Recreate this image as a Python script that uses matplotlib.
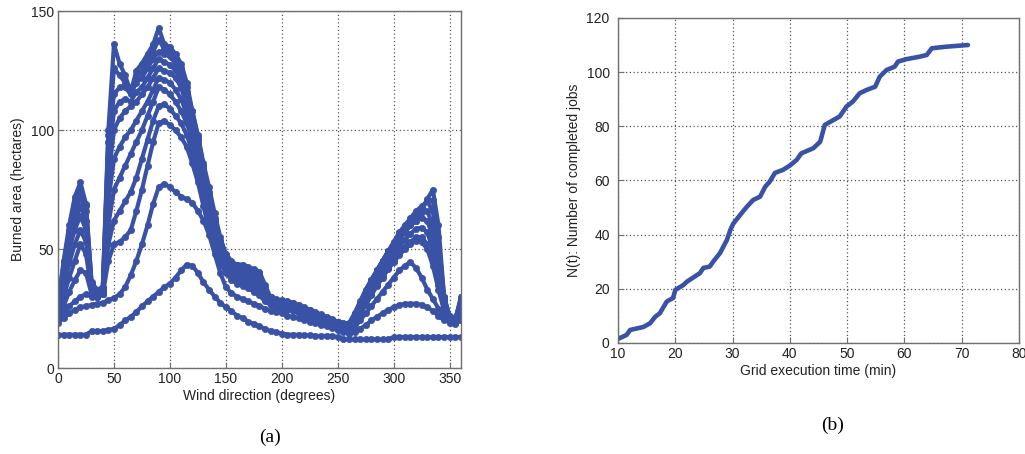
import numpy as np
import matplotlib
matplotlib.use("Agg")
import matplotlib.pyplot as plt

# ---------------- data: panel (a) ----------------
wind_deg = list(range(0, 361, 5))

area_s1 = [14, 14, 14, 14, 14, 14, 15.5, 15.5, 15.5, 16, 16.5, 18, 20, 21.5, 23.5, 26, 28, 30, 32, 34,
           35.5, 38, 41, 43.5, 43, 40, 36, 33, 30, 27.5, 25.5, 24, 22, 21, 19.5, 18.5, 17.5, 16.5, 15.5, 15,
           14.5, 14, 14, 14, 13.8, 13.7, 13.5, 13.5, 13.5, 13.4, 13, 12, 12, 12, 12, 12, 12, 12, 12, 12,
           13, 13, 13, 13, 13, 13, 13, 13, 13, 13, 13, 13, 13]
area_s2 = [19, 21, 23, 24.5, 25.5, 26, 26.5, 27, 27.5, 28.5, 29.5, 31, 34, 39, 45, 52, 60, 69, 76, 77.5,
           76, 74, 72, 71, 69.5, 66, 62, 56, 48, 40, 34, 31.5, 30, 29, 28, 27, 26, 25, 24, 23.5,
           23, 22, 21.5, 21, 20, 19.5, 19, 18, 17.5, 17, 16, 15, 14.5, 15, 16.5, 18, 20, 21.5, 23, 24.5,
           25.5, 26.5, 27, 27, 27, 26.5, 25.5, 24, 22, 20, 19.5, 19.5, 20]
area_s3 = [21, 23, 26, 28, 30, 31, 30, 30, 31, 45, 52, 53, 55, 58, 66, 75, 85, 95, 103, 104,
           102, 100, 97, 93, 86, 78, 68, 58, 50, 44, 40, 37, 35.5, 34.5, 33.5, 32, 30.5, 28, 26.5, 25.5,
           25, 24.5, 24, 23, 22, 21, 20, 19, 18.5, 17.5, 16.5, 15.5, 15, 17, 20, 23, 26, 29, 32, 35,
           38, 41, 43, 44.5, 42, 38, 33, 29, 25, 21, 19, 18.5, 20]
area_s3a = [21.5, 26, 32, 37, 41, 40, 31, 30, 31, 52, 62, 66, 70, 74, 80, 88, 96, 104, 110, 111,
            109, 106, 103, 98, 91, 83, 73, 62, 53, 46, 42, 39, 37, 36, 35, 34, 32, 29, 27.5, 26.5,
            26, 25.5, 25, 24, 23, 22, 21, 20, 19.2, 18.2, 17.2, 16.2, 15.5, 18.5, 22.5, 26.5, 30.5, 34.5, 38, 41.5,
            44.5, 47.5, 50, 52, 53.5, 53, 50, 43, 33, 24, 19.5, 18.8, 21]
area_s4 = [22, 30, 38, 45, 52, 48, 32, 30, 31, 60, 75, 80, 85, 90, 95, 100, 106, 112, 118, 117,
           115, 112, 108, 103, 96, 88, 78, 66, 56, 48, 44, 41, 39, 38, 37, 35.5, 33.5, 30, 28.5, 27.5,
           27, 26.5, 26, 25, 24, 23, 22, 21, 20, 19, 18, 17, 16, 19, 23, 27, 31, 35, 38.5, 42,
           45, 48, 51, 53, 55, 55, 52, 45, 35, 25, 20, 19, 22]
area_s4a = [23, 34, 44, 52, 58, 53, 33, 30.5, 31.5, 70, 88, 93, 97, 100, 104, 108, 112, 117, 122, 121,
            120, 117, 113, 107, 99, 91, 81, 69, 59, 50, 45, 42, 40, 39, 38, 37, 35, 30.5, 29, 28,
            27.5, 27, 26.5, 25.5, 24.5, 23.5, 22.5, 21.5, 20.5, 19.5, 18.5, 17.5, 16.5, 20, 24.5, 29, 33, 37, 40.5, 44,
            47.5, 51, 54, 56.5, 58.5, 59, 57, 50, 38, 26, 20.5, 19.5, 23]
area_s5 = [24, 38, 50, 58, 64, 58, 34, 31, 32, 80, 100, 105, 108, 110, 112, 115, 118, 122, 126, 125,
           124, 122, 118, 110, 102, 94, 84, 72, 62, 52, 46, 43, 41, 40, 39, 38, 37, 31, 29.5, 28.5,
           28, 27.5, 27, 26, 25, 24, 23, 22, 21, 20, 19, 18, 17, 21, 26, 31, 35, 39, 43, 46,
           50, 54, 57, 60, 62, 63, 62, 55, 40, 28, 21, 20, 25]
area_s5a = [25, 40, 53, 62, 68, 62, 34.5, 31.5, 32.5, 88, 108, 112, 113, 112, 116, 118, 122, 126, 130, 128.5,
            127.5, 125, 121, 113, 105, 96, 85, 74, 63, 53.5, 47, 44, 42, 41, 40, 39, 38, 31.5, 29.7, 28.7,
            28.2, 27.7, 27.2, 26.2, 25.2, 24.2, 23.2, 22.2, 21.2, 20.2, 19.2, 18.2, 17.2, 21.5, 26.5, 31.5, 36, 40, 44, 47.5,
            51.5, 55.5, 58.5, 61.5, 64, 65.5, 66, 60, 45, 29, 21.5, 20.5, 26]
area_s6 = [26, 42, 56, 66, 72, 66, 35, 32, 33, 95, 115, 118, 118, 115, 120, 122, 126, 130, 133, 132,
           131, 128, 124, 116, 108, 98, 86, 76, 65, 55, 48, 45, 43, 42, 41, 40, 39.5, 32, 30, 29,
           28.5, 28, 27.5, 26.5, 25.5, 24.5, 23.5, 22.5, 21.5, 20.5, 19.5, 18.5, 17.5, 22, 27, 32, 37, 41, 45, 49,
           53, 57, 60, 63, 66, 68, 70, 66, 50, 30, 22, 21, 28]
area_s6a = [26.5, 44, 58, 69, 75, 68, 35.5, 32.5, 33.5, 98, 126, 123, 120, 116, 122, 125, 129, 133, 138, 134,
            133, 130, 126, 118, 108, 97, 85, 73, 62, 53.5, 47.5, 44.5, 43.5, 43, 42, 41, 40, 33.5, 29.7, 28.7,
            28.2, 27.5, 26.7, 25.7, 25, 23.7, 22.7, 21.7, 21, 20.2, 19.5, 18.7, 18.2, 22.5, 27.5, 32.5, 37, 41, 45, 49,
            52.5, 55.5, 58.5, 61.5, 64, 67, 70.5, 70.5, 55, 30, 21, 20.5, 29]
area_s7 = [27, 45, 60, 72, 78, 69, 36, 33, 34, 100, 136, 128, 123, 116, 125, 128, 132, 136, 143, 136,
           135, 132, 128, 120, 108, 96, 82, 68, 58, 51, 46.5, 43.5, 43.5, 43.5, 42.5, 41.5, 40.5, 35, 29.5, 28.5,
           28, 27, 26, 25, 24.5, 23, 22, 21, 20.5, 20, 19.5, 19, 18.8, 23, 28, 33, 37, 41, 45, 49,
           52, 54, 57, 60, 62, 66, 71, 75, 60, 30, 20, 20, 30]
area_series = [area_s1, area_s2, area_s3, area_s3a, area_s4, area_s4a,
               area_s5, area_s5a, area_s6, area_s6a, area_s7]

# ---------------- data: panel (b) ----------------
exec_time_min = [10, 11.5, 12.1, 14.4, 15.6, 16.5, 17.3, 18.5, 19.6, 20, 21.4, 22, 24.3, 24.9, 26, 26.6,
                 27.8, 28.4, 29, 29.6, 30.1, 31.6, 32.5, 33.6, 34.8, 35.7, 36.5, 37.4, 38.8, 40, 41.2, 42,
                 44.1, 45.3, 46.1, 47.6, 48.7, 49.9, 51, 52.2, 53.4, 54.9, 55.7, 56.9, 58.3, 58.9, 60.4,
                 62.7, 63.9, 64.8, 67.4, 71.1]
completed_jobs = [1.5, 3, 4.8, 5.9, 7.3, 9.7, 11, 15.3, 16.6, 19.6, 21.4, 22.6, 25.8, 27.7, 28.2, 30,
                  33.2, 35.6, 38, 41.7, 44, 48, 50.3, 52.8, 54, 57.7, 59.6, 62.8, 63.9, 65.5, 67.6, 70,
                  71.9, 74.3, 80.5, 82.3, 83.6, 87.3, 89.1, 92.2, 93.4, 94.6, 98.3, 100.8, 102, 103.9, 104.8,
                  105.7, 106.3, 108.8, 109.4, 110]

for s in area_series:
    if len(s) != len(wind_deg):
        raise ValueError(f"length mismatch {len(s)}")
if len(exec_time_min) != len(completed_jobs):
    raise ValueError("panel b mismatch")

BLUE = "#3a52a6"
plt.rcParams['font.family'] = ['Liberation Sans', 'DejaVu Sans']

fig = plt.figure(figsize=(10.25, 4.54), dpi=100)

def style(ax, ypad=3):
    ax.grid(True, linestyle=(0, (1, 2)), color="#555555", linewidth=0.9)
    ax.set_axisbelow(True)
    for sp in ax.spines.values():
        sp.set_color("#707070")
        sp.set_linewidth(1.0)
    ax.tick_params(direction="in", length=4, width=0.8, color="#707070",
                   labelsize=10, top=False, right=False, pad=3, labelcolor="#222222")
    ax.tick_params(axis="y", pad=ypad)

# panel (a)
ax1 = fig.add_axes([0.0566, 0.1894, 0.393, 0.786])
for s in area_series:
    ax1.plot(wind_deg, s, marker="o", ms=4.5, lw=3.0, color=BLUE, mec=BLUE, mew=0.5)
ax1.set_xlim(0, 360)
ax1.set_ylim(0, 150)
ax1.set_xticks([0, 50, 100, 150, 200, 250, 300, 350])
ax1.set_yticks([0, 50, 100, 150])
style(ax1)
ax1.set_xlabel("Wind direction (degrees)", fontsize=10, labelpad=2, color="#222222")
ax1.set_ylabel("Burned area (hectares)", fontsize=10, labelpad=4, color="#222222")

# panel (b)
ax2 = fig.add_axes([0.603, 0.2445, 0.391, 0.716])
ax2.plot(exec_time_min, completed_jobs, lw=3.3, color=BLUE, solid_capstyle="round")
ax2.set_xlim(10, 80)
ax2.set_ylim(0, 120)
ax2.set_xticks(range(10, 81, 10))
ax2.set_yticks(range(0, 121, 20))
style(ax2, ypad=6)
ax2.set_xlabel("Grid execution time (min)", fontsize=10, labelpad=2, color="#222222")
ax2.set_ylabel("N(t): Number of completed jobs", fontsize=10, labelpad=4, color="#222222")

fig.text(0.263, 0.037, "(a)", ha="center", va="center", fontsize=14,
         family=["Liberation Serif", "DejaVu Serif"])
fig.text(0.812, 0.064, "(b)", ha="center", va="center", fontsize=14,
         family=["Liberation Serif", "DejaVu Serif"])

fig.savefig("out.png", dpi=100)
